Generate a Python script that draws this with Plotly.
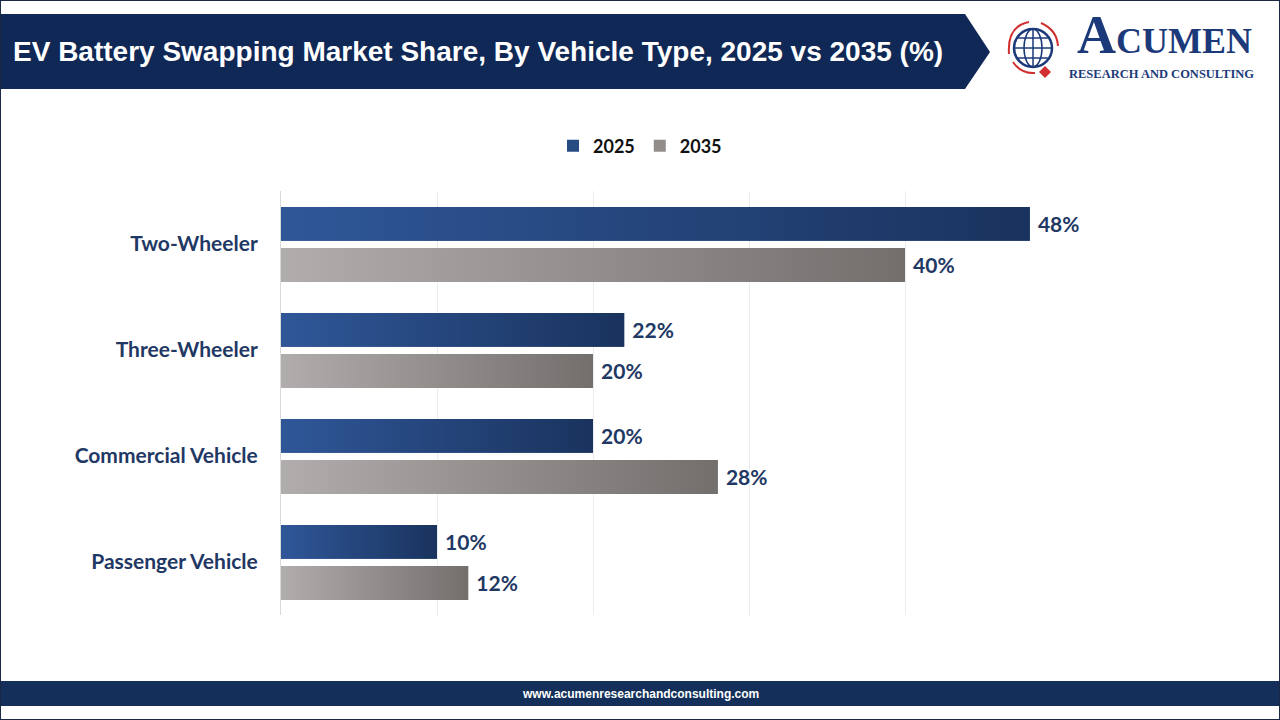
import plotly.graph_objects as go

categories = ["Two-Wheeler", "Three-Wheeler", "Commercial Vehicle", "Passenger Vehicle"]
share_2025 = [48, 22, 20, 10]
share_2035 = [40, 20, 28, 12]
series_names = ["2025", "2035"]
title_text = "EV Battery Swapping Market Share, By Vehicle Type, 2025 vs 2035 (%)"
footer_text = "www.acumenresearchandconsulting.com"

W, H = 1280, 720
def px(x):
    return x / W
def py(y):
    return 1 - y / H

NAVY = "#1f3864"
FONT = "Lato"

series = [
    dict(name=series_names[0], values=share_2025, solid="#264a82",
         grad=[[0, "#2f5798"], [1, "#1a335e"]], offset=-0.35),
    dict(name=series_names[1], values=share_2035, solid="#918d8b",
         grad=[[0, "#b1adac"], [1, "#736f6d"]], offset=0.038),
]
BAR_W = 0.32
positions = list(range(len(categories)))

fig = go.Figure()
for s in series:
    fig.add_trace(go.Bar(
        y=positions, x=s["values"], name=s["name"], orientation="h",
        offset=s["offset"], width=BAR_W,
        marker=dict(color=s["solid"], line=dict(width=0)),
        text=[f"\u00a0{v}%" for v in s["values"]], textposition="outside",
        textfont=dict(family=FONT, size=21, color=NAVY, weight="bold"),
        cliponaxis=False,
    ))
# gradient overlays for each bar, derived from the same data values
for s in series:
    for pos, v in zip(positions, s["values"]):
        y0 = pos + s["offset"]
        y1 = y0 + BAR_W
        fig.add_trace(go.Scatter(
            x=[0, v, v, 0, 0], y=[y0, y0, y1, y1, y0], mode="lines",
            fill="toself", line=dict(width=0),
            fillgradient=dict(type="horizontal", colorscale=s["grad"]),
            showlegend=False, hoverinfo="skip",
        ))

shapes = []
shapes.append(dict(type="rect", xref="paper", yref="paper", x0=0, x1=1, y0=0, y1=1,
                   line=dict(color="#1b2a44", width=2), fillcolor="rgba(0,0,0,0)", layer="above"))
shapes.append(dict(type="path", xref="paper", yref="paper",
                   path=f"M 0 {py(14)} L {px(965)} {py(14)} L {px(990)} {py(52)} L {px(965)} {py(89)} L 0 {py(89)} Z",
                   fillcolor="#0f2856", line=dict(width=0), layer="below"))
shapes.append(dict(type="rect", xref="paper", yref="paper", x0=0, x1=1, y0=py(706), y1=py(681),
                   fillcolor="#14305a", line=dict(width=0), layer="below"))
# logo globe
cx, cy, r = 1033, 48, 19
shapes.append(dict(type="circle", xref="paper", yref="paper",
                   x0=px(cx - r), x1=px(cx + r), y0=py(cy + r), y1=py(cy - r),
                   line=dict(color="#1c3a7a", width=2.5), fillcolor="rgba(0,0,0,0)"))
shapes.append(dict(type="circle", xref="paper", yref="paper",
                   x0=px(cx - 9), x1=px(cx + 9), y0=py(cy + r), y1=py(cy - r),
                   line=dict(color="#1c3a7a", width=1.5), fillcolor="rgba(0,0,0,0)"))
for dy in (-10, 0, 10):
    half = (r * r - dy * dy) ** 0.5
    shapes.append(dict(type="line", xref="paper", yref="paper",
                       x0=px(cx - half), x1=px(cx + half), y0=py(cy + dy), y1=py(cy + dy),
                       line=dict(color="#1c3a7a", width=1.5)))
shapes.append(dict(type="line", xref="paper", yref="paper",
                   x0=px(cx), x1=px(cx), y0=py(cy - r), y1=py(cy + r),
                   line=dict(color="#1c3a7a", width=1.5)))
shapes.append(dict(type="path", xref="paper", yref="paper",
                   path=f"M {px(cx-24)} {py(cy+6)} Q {px(cx-26)} {py(cy-22)} {px(cx-4)} {py(cy-26)}",
                   line=dict(color="#d0302f", width=2)))
shapes.append(dict(type="path", xref="paper", yref="paper",
                   path=f"M {px(cx+8)} {py(cy-25)} Q {px(cx+24)} {py(cy-18)} {px(cx+25)} {py(cy-2)}",
                   line=dict(color="#d0302f", width=2)))
shapes.append(dict(type="path", xref="paper", yref="paper",
                   path=f"M {px(cx-20)} {py(cy+14)} Q {px(cx-12)} {py(cy+26)} {px(cx+2)} {py(cy+25)}",
                   line=dict(color="#d0302f", width=2)))
shapes.append(dict(type="path", xref="paper", yref="paper",
                   path=f"M {px(cx+12)} {py(cy+18)} L {px(cx+18)} {py(cy+24)} L {px(cx+12)} {py(cy+30)} L {px(cx+6)} {py(cy+24)} Z",
                   fillcolor="#d0302f", line=dict(width=0)))

annotations = [
    dict(text=f"<b>{title_text}</b>", xref="paper", yref="paper", x=px(11), y=py(52),
         xanchor="left", yanchor="middle", showarrow=False,
         font=dict(family="Liberation Sans", size=28, color="white")),
    dict(text=f"<b>{footer_text}</b>", xref="paper", yref="paper", x=0.5, y=py(693.5),
         xanchor="center", yanchor="middle", showarrow=False,
         font=dict(family="Liberation Sans", size=12, color="white")),
    dict(text="<b><span style='font-size:54px'>A</span>CUMEN</b>", xref="paper", yref="paper",
         x=px(1075), y=py(67), xanchor="left", yanchor="bottom", showarrow=False,
         font=dict(family="Liberation Serif", size=36, color="#1c3a7a")),
    dict(text="<b>RESEARCH AND CONSULTING</b>", xref="paper", yref="paper",
         x=px(1067), y=py(74), xanchor="left", yanchor="middle", showarrow=False,
         font=dict(family="Liberation Serif", size=12.5, color="#1c3a7a")),
]

fig.update_layout(
    width=W, height=H,
    margin=dict(l=0, r=0, t=0, b=0),
    paper_bgcolor="white", plot_bgcolor="white",
    showlegend=True,
    legend=dict(orientation="h", x=0.5, y=py(146), xanchor="center", yanchor="middle",
                font=dict(family=FONT, size=18, color="#111111", weight="bold"),
                itemwidth=30, traceorder="normal"),
    xaxis=dict(domain=[px(281), px(1061)], range=[0, 50], dtick=10,
               showgrid=True, gridcolor="#ececec", gridwidth=1,
               showticklabels=False, zeroline=False, showline=False, ticks=""),
    yaxis=dict(domain=[py(615), py(191)], range=[3.5, -0.5],
               tickvals=positions, ticktext=categories,
               showgrid=False, zeroline=False,
               showline=True, linecolor="#d9d9d9", linewidth=1,
               ticks="", ticklabelstandoff=18,
               tickfont=dict(family=FONT, size=21, color=NAVY, weight="bold")),
    shapes=shapes,
    annotations=annotations,
    font=dict(family=FONT),
)

fig.write_html("out.html")
